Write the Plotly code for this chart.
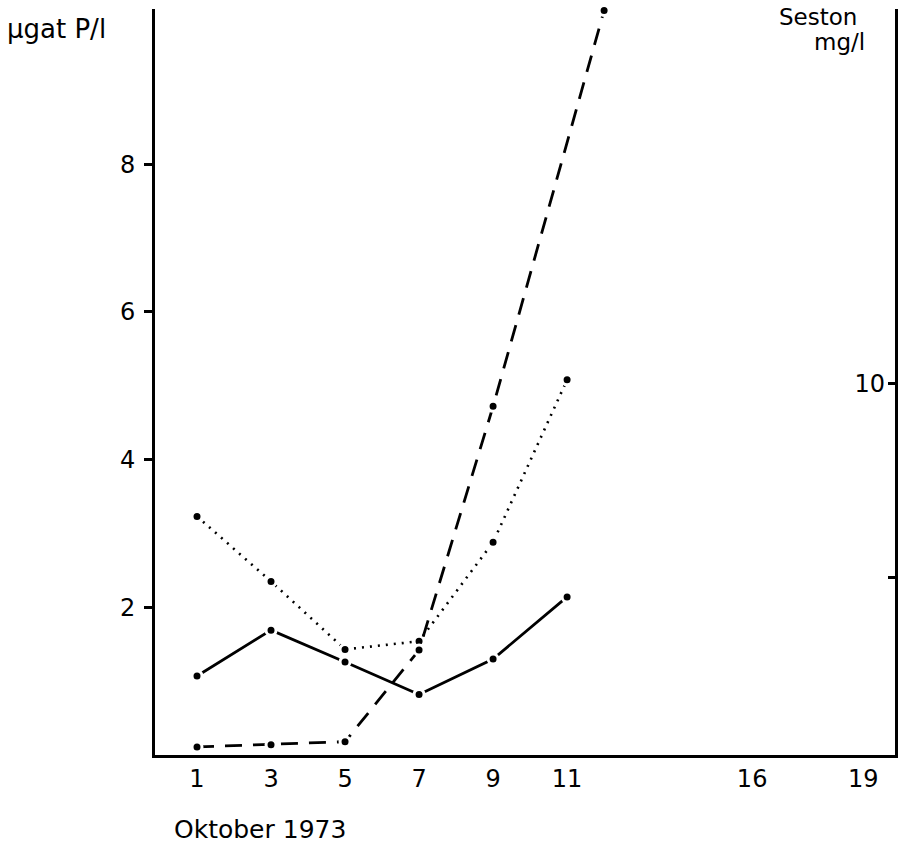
import plotly.graph_objects as go

# Data
days = [1, 3, 5, 7, 9, 11]
solid_vals = [1.07, 1.69, 1.26, 0.82, 1.30, 2.14]
dotted_vals = [3.23, 2.35, 1.43, 1.54, 2.88, 5.08]
dashed_days = [1, 3, 5, 7, 9, 12]
dashed_vals = [0.11, 0.14, 0.18, 1.42, 4.72, 10.08]

x_tick_vals = [1, 3, 5, 7, 9, 11, 16, 19]
x_tick_text = ["1", "3", "5", "7", "9", "11", "16", "19"]
y_tick_vals = [2, 4, 6, 8]
y2_tick_vals = [5, 10]
y2_tick_text = ["", "10"]

FONT = "DejaVu Sans, sans-serif"

marker = dict(size=10, color="black", line=dict(color="white", width=3))

fig = go.Figure()
fig.add_trace(go.Scatter(
    x=days, y=solid_vals, mode="lines+markers",
    line=dict(color="black", width=2.8, dash="solid"),
    marker=marker, cliponaxis=False, showlegend=False))
fig.add_trace(go.Scatter(
    x=days, y=dotted_vals, mode="lines+markers",
    line=dict(color="black", width=2.6, dash="2px,6px"),
    marker=marker, cliponaxis=False, showlegend=False))
fig.add_trace(go.Scatter(
    x=dashed_days, y=dashed_vals, mode="lines+markers",
    line=dict(color="black", width=2.8, dash="17px,11px"),
    marker=marker, cliponaxis=False, showlegend=False))
# invisible trace to activate second axis
fig.add_trace(go.Scatter(x=[None], y=[None], yaxis="y2", showlegend=False))

fig.update_layout(
    width=898, height=848,
    margin=dict(l=155, r=3, t=9, b=93),
    paper_bgcolor="white", plot_bgcolor="white",
    font=dict(family=FONT, size=24, color="black"),
    xaxis=dict(
        range=[-0.135, 19.86], tickmode="array",
        tickvals=x_tick_vals, ticktext=x_tick_text,
        showgrid=False, zeroline=False, showline=True,
        linecolor="black", linewidth=3, ticks="",
        ticklabelstandoff=0, ticklabeloverflow="allow",
        tickfont=dict(color="black", size=24),
    ),
    yaxis=dict(
        range=[0, 10.1], tickmode="array", tickvals=y_tick_vals,
        showgrid=False, zeroline=False, showline=True,
        linecolor="black", linewidth=3, ticks="outside",
        ticklen=8, tickwidth=3, tickcolor="black",
        ticklabelstandoff=4, tickfont=dict(color="black", size=24),
    ),
    yaxis2=dict(
        overlaying="y", side="right",
        range=[0.41, 19.69], tickmode="array",
        tickvals=y2_tick_vals, ticktext=y2_tick_text,
        showgrid=False, zeroline=False, showline=True,
        linecolor="black", linewidth=2.5, ticks="inside",
        ticklen=7, tickwidth=3, tickcolor="black",
        ticklabelposition="inside", ticklabeloverflow="allow",
        ticklabelstandoff=5,
        tickfont=dict(color="black", size=24),
    ),
    annotations=[
        dict(text="µgat P/l", xref="paper", yref="paper",
             x=-150/740, y=1 + (9 - 29)/746, xanchor="left", yanchor="middle",
             showarrow=False, font=dict(family=FONT, size=26)),
        dict(text="Seston", xref="paper", yref="paper",
             x=(859 - 155)/740, y=1 + (9 - 17)/746, xanchor="right", yanchor="middle",
             showarrow=False, font=dict(family=FONT, size=23)),
        dict(text="mg/l", xref="paper", yref="paper",
             x=(867 - 155)/740, y=1 + (9 - 42)/746, xanchor="right", yanchor="middle",
             showarrow=False, font=dict(family=FONT, size=23)),
        dict(text="Oktober 1973", xref="paper", yref="paper",
             x=(172 - 155)/740, y=-(829 - 755)/746, xanchor="left", yanchor="middle",
             showarrow=False, font=dict(family=FONT, size=25)),
    ],
)

fig.write_html("out.html")
